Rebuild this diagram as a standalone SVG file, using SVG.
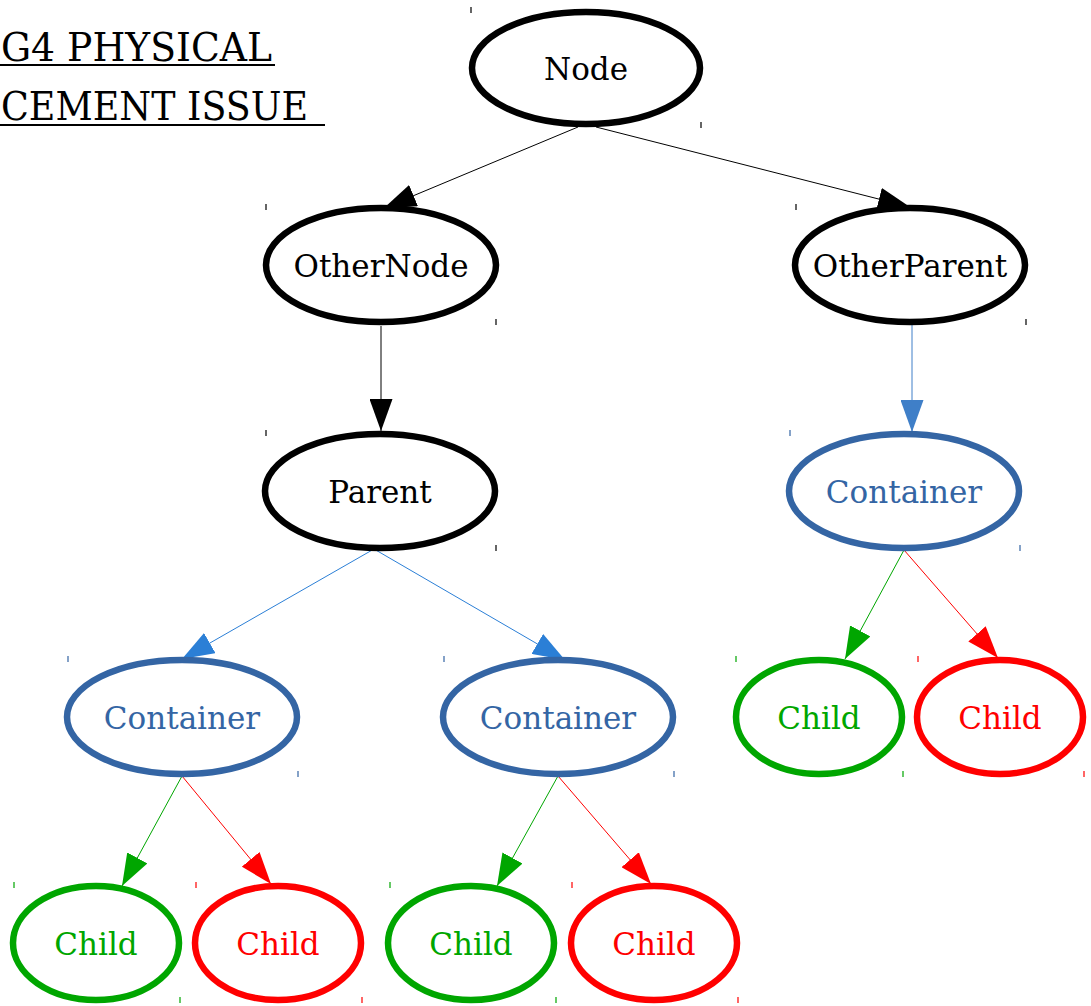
<svg xmlns="http://www.w3.org/2000/svg" width="1091" height="1006" viewBox="0 0 1091 1006">
<style>
text{font-family:'DejaVu Serif','Liberation Serif',serif;font-size:31px;text-anchor:middle}
.n{fill:#fff;stroke-width:6.5}
.k{stroke:#000}.kt{fill:#000}
.b{stroke:#3465a4}.bt{fill:#3465a4}
.g{stroke:#00a600}.gt{fill:#00a600}
.r{stroke:#ff0000}.rt{fill:#ff0000}
.tick{stroke-width:1.2;fill:none}
.e{fill:none;stroke-width:1}
.title{font-size:40px;text-anchor:start;fill:#000}
</style>
<defs>
<marker id="ak" markerUnits="userSpaceOnUse" markerWidth="33" markerHeight="23" refX="32" refY="11.5" orient="auto"><path d="M0,0 L32,11.5 L0,23 z" fill="#000"/></marker>
<marker id="ab1" markerUnits="userSpaceOnUse" markerWidth="33" markerHeight="23" refX="32" refY="11.5" orient="auto"><path d="M0,0 L32,11.5 L0,23 z" fill="#3f7fc8"/></marker>
<marker id="ab2" markerUnits="userSpaceOnUse" markerWidth="33" markerHeight="23" refX="32" refY="11.5" orient="auto"><path d="M0,0 L32,11.5 L0,23 z" fill="#2b7fd6"/></marker>
<marker id="ag" markerUnits="userSpaceOnUse" markerWidth="33" markerHeight="23" refX="32" refY="11.5" orient="auto"><path d="M0,0 L32,11.5 L0,23 z" fill="#00a600"/></marker>
<marker id="ar" markerUnits="userSpaceOnUse" markerWidth="33" markerHeight="23" refX="32" refY="11.5" orient="auto"><path d="M0,0 L32,11.5 L0,23 z" fill="#ff0000"/></marker>
</defs>
<g id="title">
<text class="title" x="1" y="61" textLength="271" lengthAdjust="spacingAndGlyphs">G4 PHYSICAL</text>
<line x1="0" y1="65" x2="275" y2="65" stroke="#000" stroke-width="2"/>
<text class="title" x="1" y="120" textLength="307" lengthAdjust="spacingAndGlyphs">CEMENT ISSUE</text>
<line x1="0" y1="125" x2="325" y2="125" stroke="#000" stroke-width="2"/>
</g>
<g id="edges">
<line class="e" stroke="#000" x1="578" y1="127" x2="384" y2="208" marker-end="url(#ak)"/>
<line class="e" stroke="#000" x1="596" y1="127" x2="910" y2="207" marker-end="url(#ak)"/>
<line class="e" stroke="#000" x1="381" y1="326" x2="381" y2="431" marker-end="url(#ak)"/>
<line class="e" stroke="#3f7fc8" x1="912" y1="322" x2="912" y2="432" marker-end="url(#ab1)"/>
<line class="e" stroke="#2b7fd6" x1="374" y1="549" x2="182" y2="659" marker-end="url(#ab2)"/>
<line class="e" stroke="#2b7fd6" x1="374" y1="549" x2="565" y2="660" marker-end="url(#ab2)"/>
<line class="e" stroke="#00a600" x1="904" y1="550" x2="845" y2="659" marker-end="url(#ag)"/>
<line class="e" stroke="#ff0000" x1="904" y1="550" x2="998" y2="658" marker-end="url(#ar)"/>
<line class="e" stroke="#00a600" x1="182" y1="776" x2="122" y2="886" marker-end="url(#ag)"/>
<line class="e" stroke="#ff0000" x1="182" y1="776" x2="271" y2="884" marker-end="url(#ar)"/>
<line class="e" stroke="#00a600" x1="558" y1="776" x2="497" y2="886" marker-end="url(#ag)"/>
<line class="e" stroke="#ff0000" x1="558" y1="776" x2="651" y2="884" marker-end="url(#ar)"/>
</g>
<g id="node-root">
<ellipse class="n k" cx="586" cy="68" rx="114" ry="56"/>
<text class="kt" x="586" y="80">Node</text>
<path class="tick k" d="M471,7v6M701,122v6"/>
</g>
<g id="node-othernode">
<ellipse class="n k" cx="381" cy="265" rx="115" ry="57"/>
<text class="kt" x="381" y="277">OtherNode</text>
<path class="tick k" d="M266,204v6M496,319v6"/>
</g>
<g id="node-otherparent">
<ellipse class="n k" cx="910" cy="265" rx="115" ry="57"/>
<text class="kt" x="910" y="277">OtherParent</text>
<path class="tick k" d="M796,204v6M1026,319v6"/>
</g>
<g id="node-parent">
<ellipse class="n k" cx="380" cy="491" rx="115" ry="57"/>
<text class="kt" x="380" y="503">Parent</text>
<path class="tick k" d="M266,430v6M496,545v6"/>
</g>
<g id="node-container-r">
<ellipse class="n b" cx="904" cy="491" rx="115" ry="57"/>
<text class="bt" x="904" y="503">Container</text>
<path class="tick b" d="M790,430v6M1020,545v6"/>
</g>
<g id="node-container-l">
<ellipse class="n b" cx="182" cy="717" rx="115" ry="57"/>
<text class="bt" x="182" y="729">Container</text>
<path class="tick b" d="M68,656v6M298,771v6"/>
</g>
<g id="node-container-m">
<ellipse class="n b" cx="558" cy="717" rx="115" ry="57"/>
<text class="bt" x="558" y="729">Container</text>
<path class="tick b" d="M444,656v6M674,771v6"/>
</g>
<g id="node-child-g3">
<ellipse class="n g" cx="819" cy="717" rx="83" ry="57"/>
<text class="gt" x="819" y="729">Child</text>
<path class="tick g" d="M736,656v6M903,771v6"/>
</g>
<g id="node-child-r3">
<ellipse class="n r" cx="1000" cy="717" rx="83" ry="57"/>
<text class="rt" x="1000" y="729">Child</text>
<path class="tick r" d="M918,656v6M1084,771v6"/>
</g>
<g id="node-child-g1">
<ellipse class="n g" cx="96" cy="943" rx="83" ry="57"/>
<text class="gt" x="96" y="955">Child</text>
<path class="tick g" d="M14,882v6M180,997v6"/>
</g>
<g id="node-child-r1">
<ellipse class="n r" cx="278" cy="943" rx="83" ry="57"/>
<text class="rt" x="278" y="955">Child</text>
<path class="tick r" d="M196,882v6M362,997v6"/>
</g>
<g id="node-child-g2">
<ellipse class="n g" cx="471" cy="943" rx="83" ry="57"/>
<text class="gt" x="471" y="955">Child</text>
<path class="tick g" d="M390,882v6M556,997v6"/>
</g>
<g id="node-child-r2">
<ellipse class="n r" cx="654" cy="943" rx="83" ry="57"/>
<text class="rt" x="654" y="955">Child</text>
<path class="tick r" d="M572,882v6M738,997v6"/>
</g>
</svg>
